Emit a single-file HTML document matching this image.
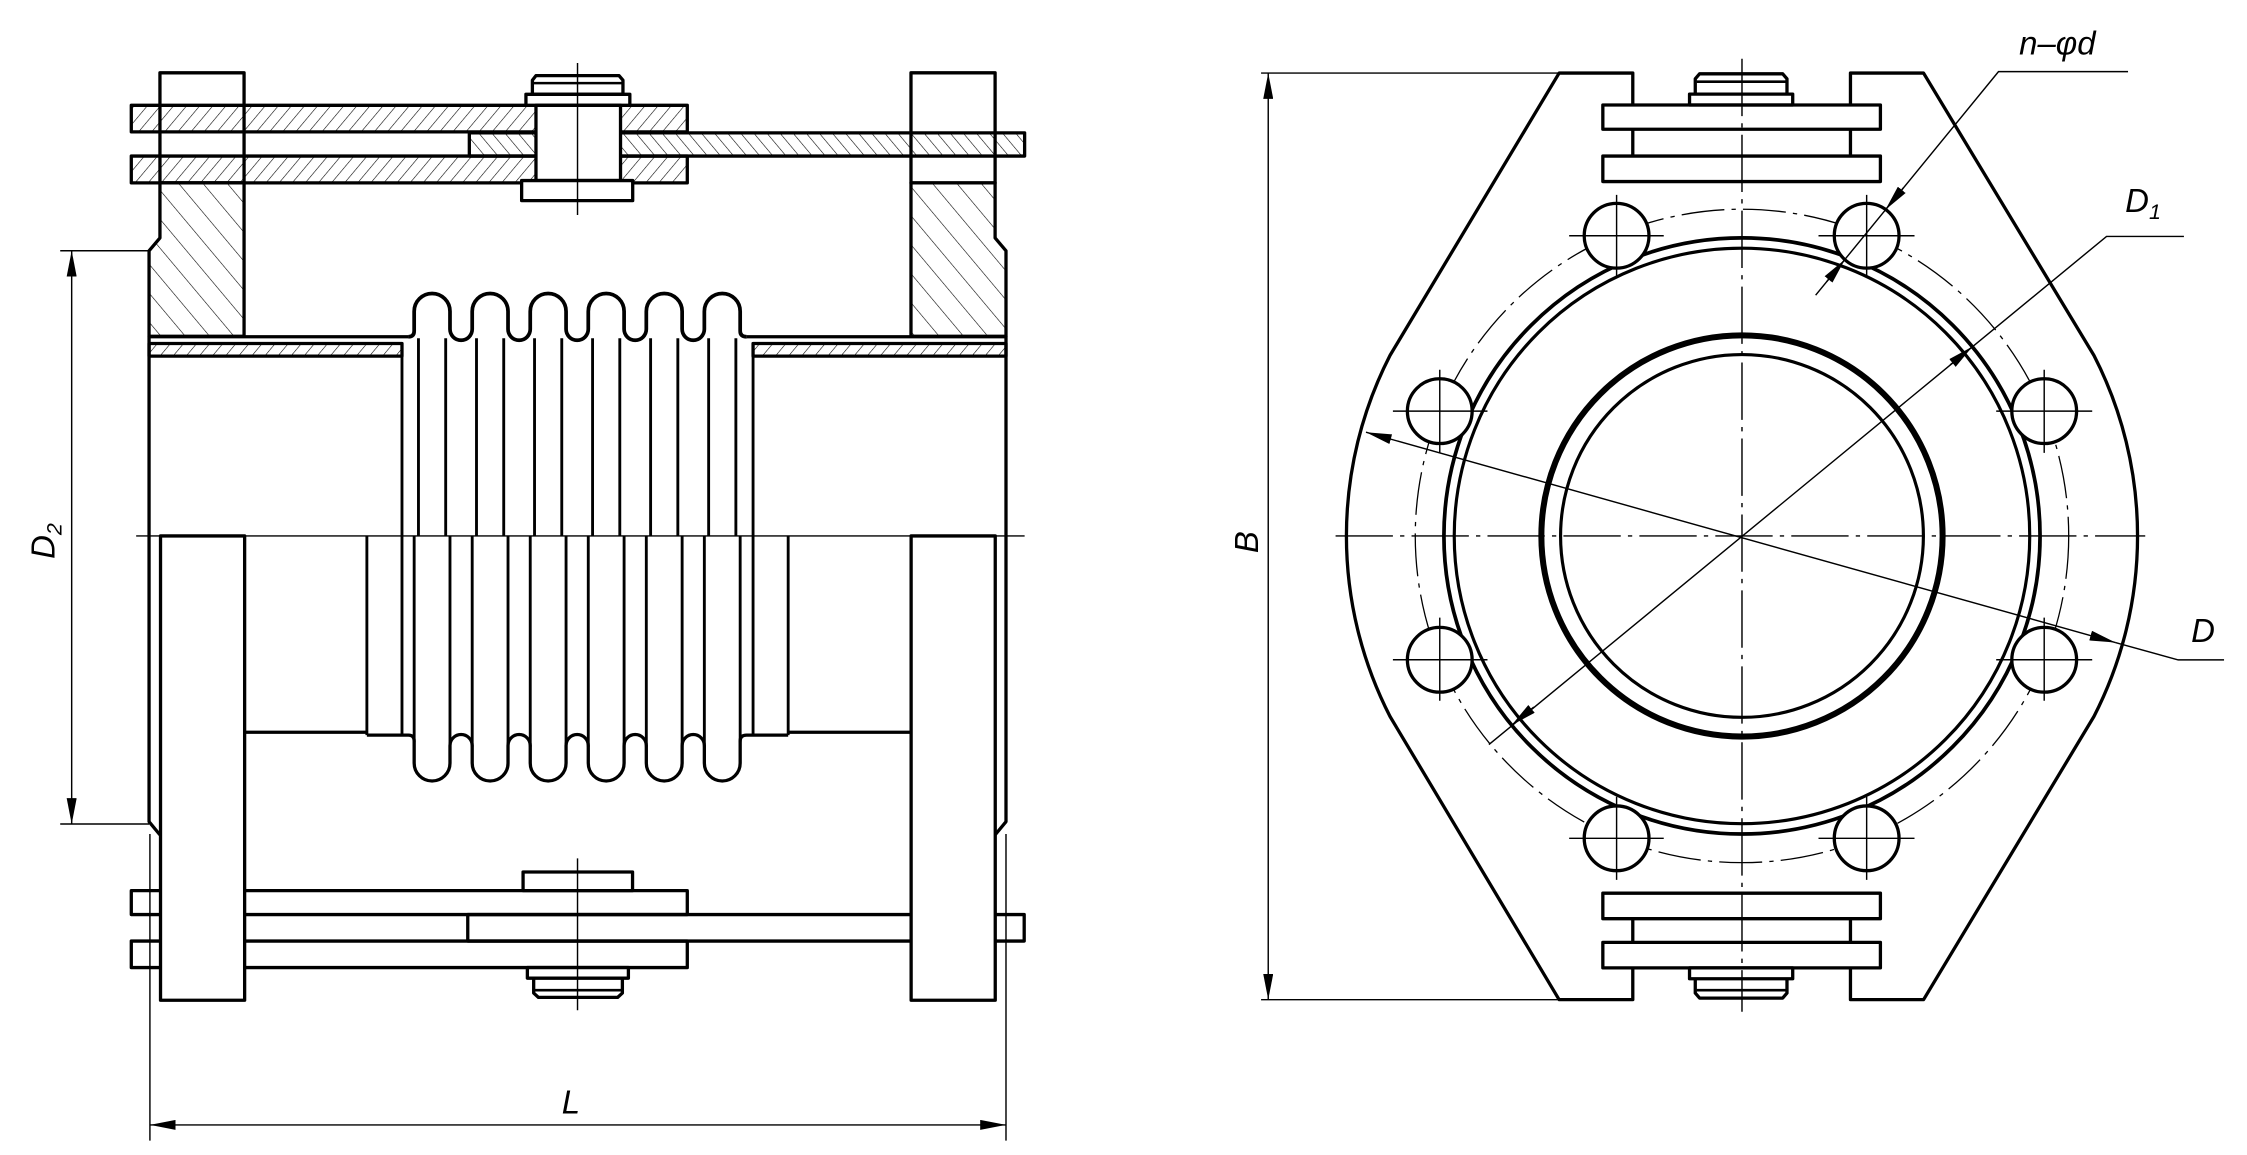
<!DOCTYPE html>
<html><head><meta charset="utf-8"><style>
html,body{margin:0;padding:0;background:#fff;}
svg{display:block;}
text{font-family:"Liberation Sans",sans-serif;font-style:italic;fill:#000;}
</style></head><body>
<svg width="2247" height="1155" viewBox="0 0 1568 806" xmlns="http://www.w3.org/2000/svg">
<defs>
<marker id="ar" markerUnits="userSpaceOnUse" markerWidth="18" markerHeight="7" refX="18" refY="3.5" orient="auto-start-reverse"><path d="M0,0 L18,3.5 L0,7 z" fill="#000"/></marker>
<pattern id="h1" patternUnits="userSpaceOnUse" width="7" height="7" patternTransform="rotate(40)"><line x1="0" y1="0" x2="0" y2="7" stroke="#000" stroke-width="0.8"/></pattern>
<pattern id="h2" patternUnits="userSpaceOnUse" width="7" height="7" patternTransform="rotate(-40)"><line x1="0" y1="0" x2="0" y2="7" stroke="#000" stroke-width="0.8"/></pattern>
<pattern id="h3" patternUnits="userSpaceOnUse" width="13" height="13" patternTransform="rotate(-40)"><line x1="0" y1="0" x2="0" y2="13" stroke="#000" stroke-width="0.8"/></pattern>
</defs>
<g fill="none" stroke="#000" stroke-width="2.3" stroke-linejoin="round">
<!-- ============ LEFT VIEW TOP SECTION ============ -->
<!-- flange top blocks -->
<rect x="111.6" y="50.8" width="58.7" height="76.8" fill="#fff"/>
<rect x="635.7" y="50.8" width="58.7" height="76.8" fill="#fff"/>
<!-- plates -->
<rect x="91.6" y="73.5" width="388" height="18.5" fill="url(#h1)"/>
<rect x="91.6" y="108.9" width="388" height="18.7" fill="url(#h1)"/>
<rect x="327.5" y="92.7" width="387.5" height="16.2" fill="url(#h2)"/>
<!-- bolt -->
<path d="M374 52.8 L432 52.8 L434.7 56 L434.7 65.8 L371.5 65.8 L371.5 56 Z" fill="#fff"/>
<line x1="372" y1="58" x2="434" y2="58" stroke-width="1.8"/>
<rect x="367" y="65.8" width="72.5" height="7.7" fill="#fff"/>
<rect x="374" y="73.5" width="59" height="52.5" fill="#fff"/>
<rect x="364" y="126" width="77.5" height="14" fill="#fff"/>
<!-- hatched flanges -->
<path d="M111.6 127.6 L170.3 127.6 L170.3 234.7 L104 234.7 L104 175 L111.6 166 Z" fill="url(#h3)"/>
<path d="M694.4 127.6 L635.7 127.6 L635.7 234.7 L702 234.7 L702 175 L694.4 166 Z" fill="url(#h3)"/>
<!-- pipe hatched strip -->
<rect x="104" y="239.7" width="176.5" height="8.8" fill="url(#h1)"/>
<rect x="525.5" y="239.7" width="176.5" height="8.8" fill="url(#h1)"/>
<line x1="104" y1="235" x2="285" y2="235"/>
<line x1="521" y1="235" x2="702" y2="235"/>
<!-- pipe outer -->
<path d="M104 234.7 L104 573.4 L111.6 582.6"/>
<path d="M702 234.7 L702 573.4 L694.4 582.6"/>
<!-- bellows top -->
<path d="M285 235 Q289 235 289 231 L289 217.3 A12.5 12.5 0 0 1 314 217.3 L314 229.7 A7.75 7.75 0 0 0 329.5 229.7 L329.5 217.3 A12.5 12.5 0 0 1 354.5 217.3 L354.5 229.7 A7.75 7.75 0 0 0 370 229.7 L370 217.3 A12.5 12.5 0 0 1 395 217.3 L395 229.7 A7.75 7.75 0 0 0 410.5 229.7 L410.5 217.3 A12.5 12.5 0 0 1 435.5 217.3 L435.5 229.7 A7.75 7.75 0 0 0 451 229.7 L451 217.3 A12.5 12.5 0 0 1 476 217.3 L476 229.7 A7.75 7.75 0 0 0 491.5 229.7 L491.5 217.3 A12.5 12.5 0 0 1 516.5 217.3 L516.5 231 Q516.5 235 521 235" stroke-width="2.6"/>
<!-- bellows bottom -->
<path d="M256 513 L285 513 Q289 513 289 517 L289 532.5 A12.5 12.5 0 0 0 314 532.5 L314 520.3 A7.75 7.75 0 0 1 329.5 520.3 L329.5 532.5 A12.5 12.5 0 0 0 354.5 532.5 L354.5 520.3 A7.75 7.75 0 0 1 370 520.3 L370 532.5 A12.5 12.5 0 0 0 395 532.5 L395 520.3 A7.75 7.75 0 0 1 410.5 520.3 L410.5 532.5 A12.5 12.5 0 0 0 435.5 532.5 L435.5 520.3 A7.75 7.75 0 0 1 451 520.3 L451 532.5 A12.5 12.5 0 0 0 476 532.5 L476 520.3 A7.75 7.75 0 0 1 491.5 520.3 L491.5 532.5 A12.5 12.5 0 0 0 516.5 532.5 L516.5 517 Q516.5 513 521 513 L550 513"/>
<!-- bellows vertical lines -->
<g stroke-width="2">
<path d="M292 236 V374 M311 236 V374 M332.5 236 V374 M351.5 236 V374 M373 236 V374 M392 236 V374 M413.5 236 V374 M432.5 236 V374 M454 236 V374 M473 236 V374 M494.5 236 V374 M513.5 236 V374"/>
<path d="M289 374 V518 M314 374 V521 M329.5 374 V521 M354.5 374 V521 M370 374 V521 M395 374 V521 M410.5 374 V521 M435.5 374 V521 M451 374 V521 M476 374 V521 M491.5 374 V521 M516.5 374 V518"/>
<path d="M280.5 248 V513 M525.5 248 V513 M256 374 V513 M550 374 V513"/>
</g>
<path d="M170.7 511 L256 511 M550 511 L636 511"/>
<path d="M112 511 L170.7 511 M636 511 L694.5 511" stroke-width="1"/>
<!-- ============ LEFT VIEW BOTTOM ============ -->
<rect x="91.6" y="621.5" width="388" height="16.7"/>
<rect x="326.4" y="638.2" width="388.3" height="18.5"/>
<rect x="91.6" y="656.7" width="388" height="18.5"/>
<rect x="365" y="608.5" width="76.4" height="13" fill="#fff"/>
<rect x="368" y="675.2" width="70.5" height="7.4" fill="#fff"/>
<path d="M372.4 682.6 L434.3 682.6 L434.3 693 L431 696 L375.7 696 L372.4 693 Z" fill="#fff"/>
<line x1="373" y1="691" x2="434" y2="691" stroke-width="1.8"/>
<rect x="112" y="374" width="58.7" height="324" fill="#fff"/>
<rect x="635.8" y="374" width="58.7" height="324" fill="#fff"/>
<!-- ============ RIGHT VIEW ============ -->
<path d="M1139.4 73.3 L1139.4 51 L1088 51 L970 248 A276 276 0 0 0 970 500 L1088 697.6 L1139.4 697.6 L1139.4 675.4"/>
<path d="M1291.3 73.3 L1291.3 51 L1342.3 51 L1461.2 248 A276 276 0 0 1 1461.2 500 L1342.3 697.6 L1291.3 697.6 L1291.3 675.4"/>
<path d="M1139.4 90.2 V108.9 M1291.3 90.2 V108.9 M1139.4 641.1 V657.6 M1291.3 641.1 V657.6"/>
<rect x="1118.5" y="73.3" width="193.7" height="16.9"/>
<rect x="1118.5" y="108.9" width="193.7" height="17.8"/>
<rect x="1118.5" y="623.3" width="193.7" height="17.8"/>
<rect x="1118.5" y="657.6" width="193.7" height="17.8"/>
<rect x="1179" y="65.7" width="72" height="7.6"/>
<path d="M1183 65.7 L1183 55 L1186 51.5 L1244 51.5 L1247 55 L1247 65.7"/>
<line x1="1184" y1="57" x2="1246" y2="57" stroke-width="1.8"/>
<rect x="1179" y="675.4" width="72" height="7.6"/>
<path d="M1183 683 L1183 693 L1186 696.5 L1244 696.5 L1247 693 L1247 683"/>
<line x1="1184" y1="691" x2="1246" y2="691" stroke-width="1.8"/>
<circle cx="1215.6" cy="374" r="126.6" stroke-width="2.2"/>
<circle cx="1215.6" cy="374" r="140" stroke-width="4.2"/>
<circle cx="1215.6" cy="374" r="200.8" stroke-width="2.2"/>
<circle cx="1215.6" cy="374" r="208" stroke-width="2.6"/>
<circle cx="1215.6" cy="374" r="228" stroke-width="0.9" stroke-dasharray="30 5 3 5"/>
<g fill="#fff">
<circle cx="1128.1" cy="164.5" r="22.6"/>
<circle cx="1302.6" cy="164.5" r="22.6"/>
<circle cx="1004.7" cy="286.9" r="22.6"/>
<circle cx="1426.5" cy="286.9" r="22.6"/>
<circle cx="1004.7" cy="460.4" r="22.6"/>
<circle cx="1426.5" cy="460.4" r="22.6"/>
<circle cx="1128.1" cy="585" r="22.6"/>
<circle cx="1302.6" cy="585" r="22.6"/>
</g>
</g>
<!-- thin lines -->
<g fill="none" stroke="#000" stroke-width="1">
<line x1="95" y1="374" x2="715" y2="374"/>
<line x1="403" y1="44" x2="403" y2="150"/>
<line x1="403" y1="599" x2="403" y2="705"/>
<g stroke-dasharray="40 5 3 5">
<line x1="932" y1="374" x2="1497" y2="374"/>
<line x1="1215.6" y1="41" x2="1215.6" y2="706"/>
</g>
<path d="M1095 164.5 H1161 M1128.1 136 V194 M1269 164.5 H1336 M1302.6 136 V194 M972 286.9 H1038 M1004.7 258 V316 M1393 286.9 H1460 M1426.5 258 V316 M972 460.4 H1038 M1004.7 431 V489 M1393 460.4 H1460 M1426.5 431 V489 M1095 585 H1161 M1128.1 556 V614 M1269 585 H1336 M1302.6 556 V614"/>
<!-- D2 -->
<line x1="42" y1="175" x2="104" y2="175"/>
<line x1="42" y1="575" x2="104" y2="575"/>
<line x1="50" y1="175" x2="50" y2="575" marker-start="url(#ar)" marker-end="url(#ar)"/>
<!-- L -->
<line x1="104.6" y1="582" x2="104.6" y2="796"/>
<line x1="702" y1="582" x2="702" y2="796"/>
<line x1="104.6" y1="785" x2="702" y2="785" marker-start="url(#ar)" marker-end="url(#ar)"/>
<!-- B -->
<line x1="880" y1="51" x2="1088" y2="51"/>
<line x1="880" y1="697.6" x2="1088" y2="697.6"/>
<line x1="885" y1="51" x2="885" y2="697.6" marker-start="url(#ar)" marker-end="url(#ar)"/>
<!-- D -->
<line x1="953.2" y1="301.6" x2="1476.2" y2="448.4" marker-start="url(#ar)" marker-end="url(#ar)"/>
<polyline points="1476.2,448.4 1520,460.5 1552,460.5"/>
<!-- D1 -->
<polyline points="1039,519.6 1470,165 1524,165"/>
<line x1="1360.9" y1="254.6" x2="1376.4" y2="241.9" marker-end="url(#ar)"/>
<line x1="1070.3" y1="493.4" x2="1054.8" y2="506.1" marker-end="url(#ar)"/>
<!-- n-phi d -->
<polyline points="1267,206 1394.6,50 1485,50"/>
<line x1="1328.4" y1="130.9" x2="1315.7" y2="146.4" marker-end="url(#ar)"/>
<line x1="1274.7" y1="196.6" x2="1287.4" y2="181.1" marker-end="url(#ar)"/>
</g>
<!-- labels -->
<text x="1409" y="38" font-size="23">n–φd</text>
<text x="1483" y="148" font-size="23">D<tspan font-size="15" dy="5">1</tspan></text>
<text x="1529" y="448" font-size="23">D</text>
<text x="392" y="777" font-size="23">L</text>
<text transform="translate(878,386) rotate(-90)" font-size="23">B</text>
<text transform="translate(38,390) rotate(-90)" font-size="23">D<tspan font-size="15" dy="5">2</tspan></text>
</svg>
</body></html>
